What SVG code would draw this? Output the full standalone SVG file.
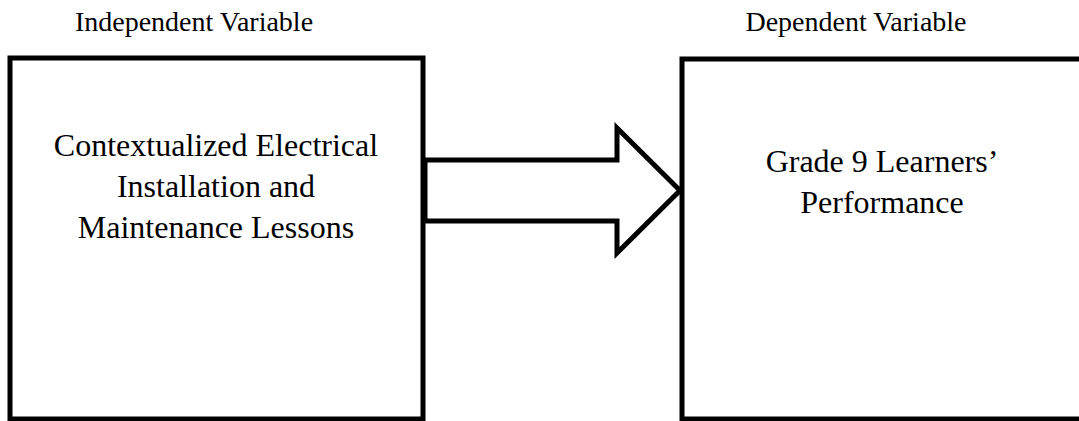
<svg xmlns="http://www.w3.org/2000/svg" width="1079" height="421" viewBox="0 0 1079 421">
<style>
.box{fill:#fff;stroke:#000;stroke-width:5}
.t{font-family:"Liberation Serif","Times New Roman",serif;fill:#000;text-anchor:middle}
.h{font-size:28px}
.b{font-size:32px}
</style>
<rect width="1079" height="421" fill="#fff"/>
<g id="label-independent"><text class="t h" x="194" y="31">Independent Variable</text></g>
<g id="label-dependent"><text class="t h" x="856" y="31">Dependent Variable</text></g>
<g id="node-independent">
<rect class="box" x="10" y="58" width="413" height="361"/>
<text class="t b" x="216" y="156">Contextualized Electrical</text>
<text class="t b" x="216" y="197">Installation and</text>
<text class="t b" x="216" y="238">Maintenance Lessons</text>
</g>
<g id="node-dependent">
<rect class="box" x="682" y="59" width="410" height="360"/>
<text class="t b" x="882" y="172">Grade 9 Learners’</text>
<text class="t b" x="882" y="213">Performance</text>
</g>
<g id="connectors">
<polygon class="box" points="425,160 617,160 617,128 680,190.5 617,253 617,221 425,221"/>
</g>
</svg>
